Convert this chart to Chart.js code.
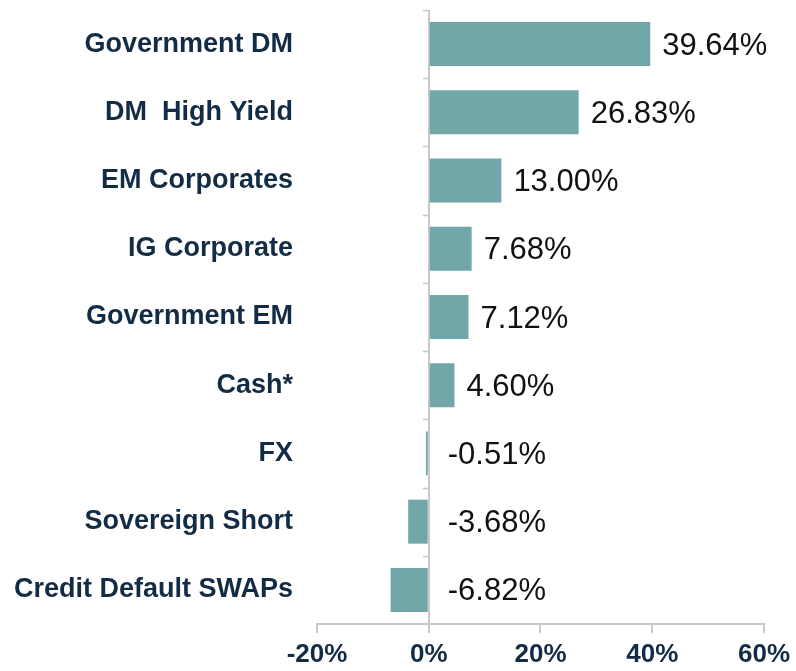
<!DOCTYPE html>
<html>
<head>
<meta charset="utf-8">
<script src="https://cdn.jsdelivr.net/npm/chart.js@4/dist/chart.umd.min.js"></script>
<style>
  body { margin: 0; background: #fff; }
</style>
</head>
<body>
<canvas id="allocChart" width="796" height="671"></canvas>
<script>
// data
const categories = ["Government DM", "DM  High Yield", "EM Corporates", "IG Corporate",
  "Government EM", "Cash*", "FX", "Sovereign Short", "Credit Default SWAPs"];
const weights = [39.64, 26.83, 13.00, 7.68, 7.12, 4.60, -0.51, -3.68, -6.82];
const xTicks = [-20, 0, 20, 40, 60];

const navy = '#132c46';
const axisGrey = '#c9c9c9';

// value labels next to each bar
const valueLabels = {
  id: 'valueLabels',
  afterDatasetsDraw(chart) {
    const ctx = chart.ctx;
    const xScale = chart.scales.x;
    const zero = xScale.getPixelForValue(0);
    const meta = chart.getDatasetMeta(0);
    ctx.save();
    ctx.font = '31px "Liberation Sans", Arial, sans-serif';
    ctx.fillStyle = '#111';
    ctx.textBaseline = 'middle';
    ctx.textAlign = 'left';
    meta.data.forEach((bar, i) => {
      const v = weights[i];
      const x = v >= 0 ? bar.x + 12 : zero + 19;
      ctx.fillText(v.toFixed(2) + '%', x, bar.y + 2);
    });
    ctx.restore();
  }
};

// little tick marks on the zero line between categories
const zeroTicks = {
  id: 'zeroTicks',
  afterDraw(chart) {
    const ctx = chart.ctx;
    const y = chart.scales.y;
    const zero = chart.scales.x.getPixelForValue(0);
    const step = (y.bottom - y.top) / categories.length;
    ctx.save();
    ctx.strokeStyle = axisGrey;
    ctx.lineWidth = 1.5;
    for (let i = 0; i < categories.length; i++) {
      const yy = Math.round(y.top + i * step) + 0.5;
      ctx.beginPath();
      ctx.moveTo(zero - 6, yy);
      ctx.lineTo(zero, yy);
      ctx.stroke();
    }
    ctx.restore();
  }
};

new Chart(document.getElementById('allocChart'), {
  type: 'bar',
  data: {
    labels: categories,
    datasets: [{
      data: weights,
      backgroundColor: '#71a7a8',
      borderWidth: 0,
      barPercentage: 0.645,
      categoryPercentage: 1
    }]
  },
  options: {
    indexAxis: 'y',
    responsive: false,
    animation: false,
    layout: { padding: { top: 10, right: 32, left: 0, bottom: 0 } },
    plugins: {
      legend: { display: false },
      tooltip: { enabled: false }
    },
    scales: {
      x: {
        min: xTicks[0],
        max: xTicks[xTicks.length - 1],
        afterBuildTicks(scale) {
          scale.ticks = xTicks.map(v => ({ value: v }));
        },
        afterFit(scale) { scale.height = 47; },
        grid: {
          color: c => (c.tick && c.tick.value === 0) ? axisGrey : 'rgba(0,0,0,0)',
          lineWidth: 2,
          tickColor: axisGrey,
          tickLength: 9
        },
        border: { display: true, color: axisGrey, width: 2 },
        ticks: {
          padding: 6,
          color: navy,
          font: { family: '"Liberation Sans", Arial, sans-serif', size: 26, weight: 'bold' },
          callback: v => v + '%'
        }
      },
      y: {
        afterFit(scale) {
          scale.width = 317;
          scale.paddingTop = 0;
          scale.paddingBottom = 0;
        },
        grid: { display: false, drawTicks: false },
        border: { display: false },
        ticks: {
          padding: 24,
          color: navy,
          font: { family: '"Liberation Sans", Arial, sans-serif', size: 27, weight: 'bold' }
        }
      }
    }
  },
  plugins: [valueLabels, zeroTicks]
});
</script>
</body>
</html>
